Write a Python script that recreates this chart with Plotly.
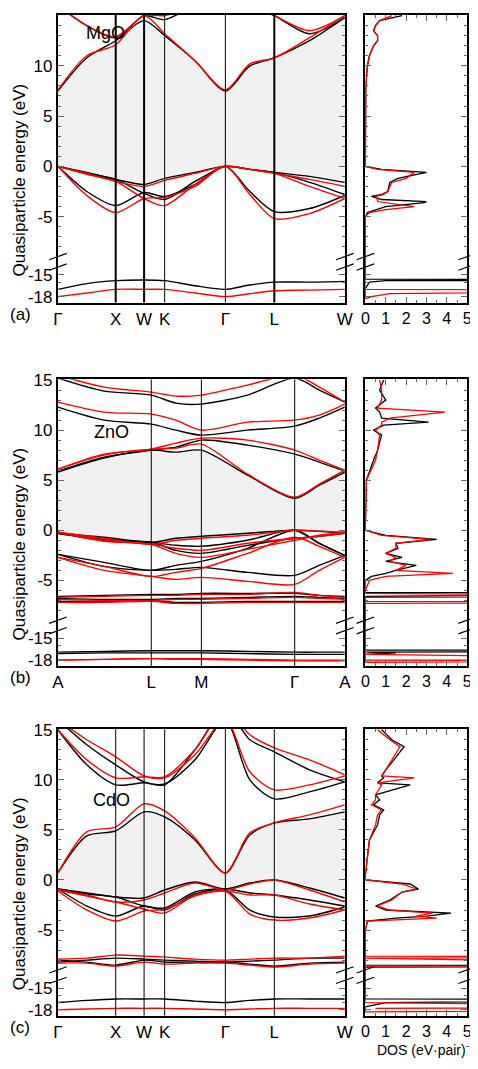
import plotly.graph_objects as go

REF_W, REF_H = 478, 1069  # reference pixel frame used for layout fractions
W, H = 468, 1053          # figure size (fits the window without overflow)
FONT = "Liberation Sans"

# ---------------- data ----------------
# fcc path nodes (relative path length) Γ X W K Γ L W
fcc_nodes = [0, 59, 88, 109, 171, 221, 293]
fcc_labels = ["Γ", "X", "W", "K", "Γ", "L", "W"]
fcc_k = [0, 29.5, 59, 88, 109, 140, 171, 196, 221, 257, 293]

# hexagonal path A L M Γ A
hex_nodes = [0, 95, 146, 241, 292]
hex_labels = ["A", "L", "M", "Γ", "A"]
hex_k = [0, 47, 95, 120, 146, 193, 241, 266, 292]

# MgO bands (black / red)
mgo_black = [
    [0, -0.6, -1.3, -1.8, -1.2, -0.6, 0, -0.3, -0.6, -1.0, -1.6],
    [0, -0.7, -1.3, -2.7, -3.3, -1.5, 0, -0.3, -0.6, -1.6, -2.8],
    [0, -2.5, -3.9, -2.6, -3.0, -1.8, 0, -2.5, -4.5, -4.2, -2.9],
    [7.5, 10.8, 12.5, 14.5, 13.0, 10.5, 7.5, 10.0, 10.8, 12.5, 14.8],
    [16, 14, 12.8, 15, 14.6, 16, 17, 16, 15, 13.2, 14.8],
    [-17, -16.2, -15.8, -15.7, -15.8, -16.5, -17, -16.4, -16.0, -16.0, -15.9],
]
mgo_red = [
    [0, -0.7, -1.5, -2.0, -1.4, -0.7, 0, -0.3, -0.7, -1.3, -2.0],
    [0, -0.8, -1.5, -3.2, -3.9, -1.8, 0, -0.3, -0.7, -2.0, -3.2],
    [0, -2.9, -4.6, -3.2, -3.1, -2.0, 0, -2.8, -5.2, -4.7, -3.2],
    [7.6, 11.0, 12.1, 15.0, 13.2, 10.5, 7.6, 10.2, 10.8, 12.8, 15.0],
    [16, 14, 12.9, 15, 15, 16, 17, 16, 15, 13.5, 15],
    [-18, -17.5, -17.0, -17.0, -17.0, -17.5, -18, -17.6, -17.2, -17.1, -17.0],
]
mgo_gap = (0, 3)  # indices of top valence / bottom conduction bands (black)

# ZnO bands
zno_black = [
    [-0.3, -0.7, -1.2, -0.8, -0.6, -0.3, 0, -0.1, -0.3],
    [-0.3, -0.9, -1.2, -1.5, -1.6, -1.0, 0, -1.3, -2.5],
    [-0.3, -1.0, -1.2, -2.0, -2.3, -1.5, -0.8, -0.6, -0.3],
    [-2.4, -3.2, -4.0, -3.5, -3.1, -1.8, 0, -1.3, -2.5],
    [-2.4, -3.6, -4.0, -3.9, -3.7, -4.2, -4.5, -3.5, -2.5],
    [-6.6, -6.5, -6.4, -6.4, -6.3, -6.3, -6.3, -6.5, -6.6],
    [-6.8, -6.9, -6.9, -6.8, -6.8, -6.7, -6.6, -6.7, -6.8],
    [-7.1, -7.1, -7.0, -7.2, -7.2, -7.1, -7.1, -7.1, -7.1],
    [5.8, 7.2, 8.0, 7.8, 8.0, 5.5, 3.2, 4.5, 5.8],
    [5.9, 7.3, 8.0, 8.3, 9.0, 8.5, 7.6, 6.8, 5.9],
    [12.3, 11.0, 10.6, 10.0, 9.5, 10.0, 10.4, 11.2, 12.3],
    [15.2, 13.9, 13.5, 12.7, 12.6, 13.5, 15.2, 14.0, 12.8],
    [-16.9, -16.8, -16.7, -16.7, -16.7, -16.8, -16.9, -16.9, -16.9],
    [-17.1, -17.0, -17.0, -17.0, -17.0, -17.1, -17.2, -17.2, -17.2],
]
zno_red = [
    [-0.2, -0.8, -1.4, -1.0, -0.8, -0.5, 0, -0.1, -0.2],
    [-0.2, -1.0, -1.4, -1.8, -2.0, -1.3, -0.8, -0.6, -0.3],
    [-0.2, -1.1, -1.4, -2.3, -2.7, -1.9, -1.0, -0.5, -0.2],
    [-2.7, -3.6, -4.6, -4.2, -3.8, -2.3, -0.7, -1.6, -2.7],
    [-2.7, -4.0, -4.6, -4.9, -4.7, -5.1, -5.4, -4.0, -2.7],
    [-6.7, -6.6, -6.5, -6.5, -6.4, -6.4, -6.2, -6.5, -6.7],
    [-6.9, -7.0, -7.0, -6.9, -6.9, -6.8, -6.7, -6.8, -6.9],
    [-7.2, -7.2, -7.1, -7.3, -7.3, -7.2, -7.2, -7.2, -7.2],
    [6.1, 7.5, 8.1, 8.2, 8.6, 5.6, 3.3, 4.6, 6.0],
    [6.1, 7.6, 8.1, 8.7, 9.2, 9.0, 8.0, 7.0, 6.0],
    [12.8, 11.8, 11.6, 11.0, 10.0, 10.8, 11.0, 11.5, 12.6],
    [15.5, 14.3, 13.8, 13.4, 13.5, 14.5, 15.5, 14.3, 12.8],
    [-18.0, -17.9, -17.8, -17.8, -17.8, -17.9, -18.0, -18.0, -18.0],
    [-18.0, -17.9, -17.8, -17.9, -17.9, -18.0, -18.1, -18.1, -18.1],
]
zno_gap = (0, 8)

# CdO bands
cdo_black = [
    [-0.9, -1.3, -1.7, -1.8, -1.0, -0.2, -0.9, -0.3, 0, -0.8, -1.8],
    [-0.9, -1.4, -1.7, -2.6, -2.8, -1.2, -0.9, -1.3, -1.5, -2.0, -2.6],
    [-0.9, -2.6, -3.6, -2.6, -3.0, -1.4, -1.0, -3.0, -3.7, -3.6, -2.7],
    [-8.0, -8.2, -8.5, -8.0, -8.2, -8.2, -8.2, -8.4, -8.6, -8.3, -8.2],
    [-8.2, -8.0, -7.8, -7.9, -8.0, -8.1, -8.2, -8.1, -8.0, -7.8, -7.8],
    [0.7, 4.4, 4.9, 6.8, 6.3, 4.0, 0.7, 4.5, 5.7, 6.1, 6.8],
    [16, 13.5, 11.5, 9.8, 9.6, 12.0, 16, 10.0, 8.1, 8.8, 9.8],
    [15, 11.5, 9.5, 9.7, 9.5, 13.0, 17, 14.0, 12.8, 11.0, 9.8],
    [-17.0, -16.7, -16.5, -16.5, -16.5, -16.8, -17.0, -16.7, -16.5, -16.5, -16.5],
]
cdo_red = [
    [-1.0, -1.5, -2.2, -2.0, -1.3, -0.3, -1.0, -0.4, 0, -1.0, -2.2],
    [-1.0, -1.6, -2.2, -2.9, -3.3, -1.5, -1.1, -1.5, -1.5, -2.4, -3.0],
    [-1.1, -3.0, -4.1, -3.1, -2.9, -1.6, -1.1, -3.4, -4.0, -3.8, -3.0],
    [-7.9, -7.8, -7.5, -7.6, -7.7, -7.9, -8.0, -7.9, -7.8, -7.8, -7.6],
    [-8.3, -8.3, -8.6, -8.2, -8.4, -8.3, -8.3, -8.5, -8.7, -8.4, -8.3],
    [0.7, 4.8, 5.3, 7.6, 6.9, 4.2, 0.7, 4.7, 5.7, 6.5, 7.5],
    [16, 14.0, 12.3, 10.4, 10.2, 12.5, 16, 10.8, 9.0, 9.5, 10.4],
    [15, 12.0, 10.2, 10.3, 10.3, 13.0, 17, 14.5, 13.2, 12.0, 10.5],
    [-18.0, -17.9, -17.8, -17.8, -17.8, -17.9, -18.0, -17.9, -17.8, -17.8, -17.8],
]
cdo_gap = (0, 5)

# DOS curves (energy, value)
mgo_dos_E = [-18.3, -18.0, -17.6, -17.1, -17.0, -16.9, -16.0, -15.8, -15.7, -15.6, -15.0, -5, -4.6, -4.3, -4.0, -3.6, -3.5, -3.3, -3.0, -2.8, -2.5, -1.6, -1.2, -0.6, -0.3, 0, 0.2, 5, 8, 10, 11, 12, 12.5, 13, 13.5, 14, 14.5, 15]
mgo_dos_b = [0, 0, 0, 0, 0, 0, 0.2, 1.0, 20, 0, 0, 0, 0.1, 0.5, 1.0, 2.9, 3.0, 0.8, 0.3, 0.8, 1.1, 1.2, 1.6, 3.0, 0.8, 0, 0, 0, 0.02, 0.1, 0.2, 0.4, 0.6, 0.6, 0.4, 0.5, 0.7, 1.8]
mgo_dos_r = [0, 0.3, 1.2, 20, 0, 0, 0, 0, 0, 0, 0, 0, 0.2, 1.0, 2.4, 1.0, 0.6, 0.6, 0.5, 0.9, 1.1, 1.3, 2.0, 2.4, 0.6, 0, 0, 0, 0.02, 0.1, 0.2, 0.4, 0.6, 0.6, 0.4, 0.5, 0.7, 1.3]

zno_dos_E = [-18.3, -18.1, -18.0, -17.9, -17.2, -17.0, -16.9, -16.7, -16.6, -9, -7.3, -7.2, -7.1, -6.7, -6.6, -6.3, -6.2, -6, -5.0, -4.6, -4.3, -4.0, -3.5, -3.1, -2.7, -2.3, -1.8, -1.3, -0.9, -0.5, 0, 0.5, 5, 7, 8, 9.5, 10.0, 10.5, 10.8, 11.2, 11.8, 12.2, 13, 14, 15]
zno_dos_b = [0, 0, 0, 0, 0, 1.5, 0, 20, 0, 0, 0, 0, 0, 0, 0, 20, 0, 0, 0, 0.3, 1.0, 1.5, 2.5, 1.0, 1.8, 1.0, 1.6, 1.5, 3.5, 1.0, 0, 0, 0.05, 0.4, 0.6, 0.8, 0.4, 0.9, 3.1, 0.8, 0.7, 0.5, 1.0, 0.7, 0.9]
zno_dos_r = [0, 20, 0, 20, 0, 0, 0, 0, 0, 0, 0, 20, 0, 0, 20, 0, 0, 0, 0.2, 1.0, 4.3, 1.5, 2.0, 1.2, 1.5, 1.0, 1.5, 1.5, 3.2, 0.8, 0, 0, 0.05, 0.5, 0.6, 0.7, 0.5, 0.8, 0.8, 1.2, 3.9, 0.6, 0.8, 0.8, 0.7]

cdo_dos_E = [-18.3, -18.0, -17.8, -17.6, -17.0, -16.6, -16.5, -16.3, -9, -8.7, -8.6, -8.5, -7.8, -7.7, -7.6, -5, -4.1, -3.8, -3.6, -3.3, -3.0, -2.6, -2.0, -1.2, -0.9, -0.4, 0, 0.5, 4, 5.5, 6.5, 7.0, 7.5, 8, 8.5, 9.5, 9.7, 10.2, 10.4, 11, 12, 13.3, 14, 15]
cdo_dos_b = [0, 0, 0, 0, 1.0, 20, 0, 0, 0, 0, 20, 0, 0, 0, 0, 0, 0.1, 1.5, 3.0, 4.2, 1.0, 0.5, 1.2, 1.8, 2.6, 2.2, 0, 0, 0.2, 0.6, 0.7, 0.9, 0.4, 0.7, 0.5, 2.2, 0.6, 0.9, 0.8, 1.0, 1.4, 1.9, 1.3, 0.8]
cdo_dos_r = [0, 20, 0.5, 20, 0, 0, 0, 0, 0, 0, 0, 20, 0, 20, 0, 0, 0.1, 3.5, 2.5, 3.3, 1.2, 0.6, 1.3, 1.8, 2.5, 1.8, 0, 0, 0.2, 0.5, 0.6, 0.8, 0.3, 0.5, 0.5, 0.8, 0.6, 2.4, 0.8, 1.0, 1.3, 1.7, 1.2, 0.6]

panels = [
    dict(name="MgO", tag="(a)", k=fcc_k, nodes=fcc_nodes, labels=fcc_labels,
         black=mgo_black, red=mgo_red, gap=mgo_gap, dosE=mgo_dos_E, dosb=mgo_dos_b, dosr=mgo_dos_r,
         top=7, bot=299, name_x=0.09, name_E=13.3, node_w=[1, 2, 2, 1, 1, 2, 1]),
    dict(name="ZnO", tag="(b)", k=hex_k, nodes=hex_nodes, labels=hex_labels,
         black=zno_black, red=zno_red, gap=zno_gap, dosE=zno_dos_E, dosb=zno_dos_b, dosr=zno_dos_r,
         top=377, bot=668, name_x=0.12, name_E=9.8, node_w=[1, 1, 1, 1, 1]),
    dict(name="CdO", tag="(c)", k=fcc_k, nodes=fcc_nodes, labels=fcc_labels,
         black=cdo_black, red=cdo_red, gap=cdo_gap, dosE=cdo_dos_E, dosb=cdo_dos_b, dosr=cdo_dos_r,
         top=732, bot=1023, name_x=0.115, name_E=8.0, node_w=[1, 1, 1, 1, 1, 1, 1]),
]

# broken energy axis mapping
def m(E):
    return E if E > -12 else -10.8 + (E + 15) * 0.72

YR = [-13.55, 15.07]
BREAK = -9.5
ytick_E = [15, 10, 5, 0, -5, -15, -18]
minor_E = [e for e in range(-8, 16) if e % 5 != 0] + [-16, -17]

BX0, BX1, DX0, DX1 = 51, 344, 365, 469
fig = go.Figure()
layout = {}
shapes, annos = [], []

def px(x):
    return x / REF_W

def py(y):
    return min(1.0, max(0.0, 1 - y / REF_H))

def ax(letter, n):
    return letter if n == 1 else f"{letter}{n}"

for i, p in enumerate(panels):
    n = 2 * i + 1
    xa, ya = ax("x", n), ax("y", n)
    xd, yd = ax("x", n + 1), ax("y", n + 1)
    k = p["k"]
    vb, cb = p["gap"]
    fig.add_trace(go.Scatter(x=k, y=[m(v) for v in p["black"][vb]], mode="lines", line=dict(width=0, shape="spline"),
                             xaxis=xa, yaxis=ya, showlegend=False, hoverinfo="skip"))
    fig.add_trace(go.Scatter(x=k, y=[m(v) for v in p["black"][cb]], mode="lines", line=dict(width=0, shape="spline"),
                             fill="tonexty", fillcolor="#f1f1f1", xaxis=xa, yaxis=ya, showlegend=False, hoverinfo="skip"))
    for col, bands in (("black", p["black"]), ("red", p["red"])):
        for b in bands:
            fig.add_trace(go.Scatter(x=k, y=[m(v) for v in b], mode="lines",
                                     line=dict(color="#ff0000" if col == "red" else "black", width=1.4, shape="spline", smoothing=0.8),
                                     xaxis=xa, yaxis=ya, showlegend=False, hoverinfo="skip"))
    for col, vals in (("black", p["dosb"]), ("red", p["dosr"])):
        fig.add_trace(go.Scatter(x=vals, y=[m(e) for e in p["dosE"]], mode="lines",
                                 line=dict(color="#ff0000" if col == "red" else "black", width=1.3),
                                 xaxis=xd, yaxis=yd, showlegend=False, hoverinfo="skip", cliponaxis=True))
    for nd, lw in zip(p["nodes"][1:-1], p["node_w"][1:-1]):
        shapes.append(dict(type="line", xref=xa, yref=f"{ya} domain", x0=nd, x1=nd, y0=0, y1=1,
                           line=dict(color="black", width=lw)))
    ydom = [py(p["bot"]), py(p["top"])]
    common_y = dict(range=YR, domain=ydom, tickvals=[m(e) for e in ytick_E], ticks="inside", ticklen=6,
                    mirror="allticks", showline=True, linecolor="black", linewidth=2, showgrid=False, zeroline=False,
                    tickcolor="#666", tickfont=dict(family=FONT, size=17, color="black"), automargin=False,
                    minor=dict(tickvals=[m(e) for e in minor_E], ticks="inside", ticklen=3, tickcolor="#666"))
    layout[f"yaxis{'' if n == 1 else n}"] = dict(common_y, ticktext=[str(e) for e in ytick_E], anchor=xa)
    layout[f"yaxis{n+1}"] = dict(common_y, showticklabels=False, anchor=xd)
    layout[f"xaxis{'' if n == 1 else n}"] = dict(range=[0, p["nodes"][-1]], domain=[px(BX0), px(BX1)], anchor=ya,
                               tickvals=p["nodes"], ticktext=p["labels"], ticks="", showline=True, mirror=True,
                               linecolor="black", linewidth=2, showgrid=False, zeroline=False, automargin=False,
                               tickfont=dict(family=FONT, size=17, color="black"))
    layout[f"xaxis{n+1}"] = dict(range=[0, 5], domain=[px(DX0), px(DX1)], anchor=yd, tickvals=[0, 1, 2, 3, 4, 5],
                                 ticks="inside", ticklen=6, tickcolor="#666", mirror="allticks", showline=True, linecolor="black",
                                 linewidth=2, showgrid=False, zeroline=False, automargin=False,
                                 minor=dict(dtick=0.5, ticks="inside", ticklen=3, tickcolor="#666"),
                                 tickfont=dict(family=FONT, size=16, color="black"))
    frac = (m(BREAK) - YR[0]) / (YR[1] - YR[0])
    yb = ydom[0] + frac * (ydom[1] - ydom[0])
    for xc in (BX0, BX1, DX0, DX1):
        for dy in (-0.005, 0.005):
            shapes.append(dict(type="line", xref="paper", yref="paper", x0=px(xc - 9), x1=px(xc + 9),
                               y0=yb + dy - 0.003, y1=yb + dy + 0.003, line=dict(color="black", width=1.2)))
    annos.append(dict(text=p["name"], xref=f"{xa} domain", yref=ya, x=p["name_x"], y=m(p["name_E"]),
                      xanchor="left", yanchor="middle", showarrow=False, font=dict(family=FONT, size=18, color="black")))
    annos.append(dict(text=p["tag"], xref="paper", yref="paper", x=0, y=py(p["bot"] + 12), xanchor="left",
                      yanchor="middle", showarrow=False, font=dict(family=FONT, size=17, color="black")))
    annos.append(dict(text="Quasiparticle energy (eV)", xref="paper", yref="paper", x=px(12),
                      y=(ydom[0] + ydom[1]) / 2 - 0.02, textangle=-90, xanchor="center", yanchor="middle",
                      showarrow=False, font=dict(family=FONT, size=17, color="black")))

annos.append(dict(text="DOS (eV·pair)<sup>-1</sup>", xref="paper", yref="paper", x=1, y=py(1057), xanchor="right",
                  yanchor="middle", showarrow=False, font=dict(family=FONT, size=14, color="black")))

fig.update_layout(width=W, height=H, margin=dict(l=0, r=0, t=0, b=0), plot_bgcolor="white", paper_bgcolor="white",
                  shapes=shapes, annotations=annos, **layout)
fig.write_html("out.html")
